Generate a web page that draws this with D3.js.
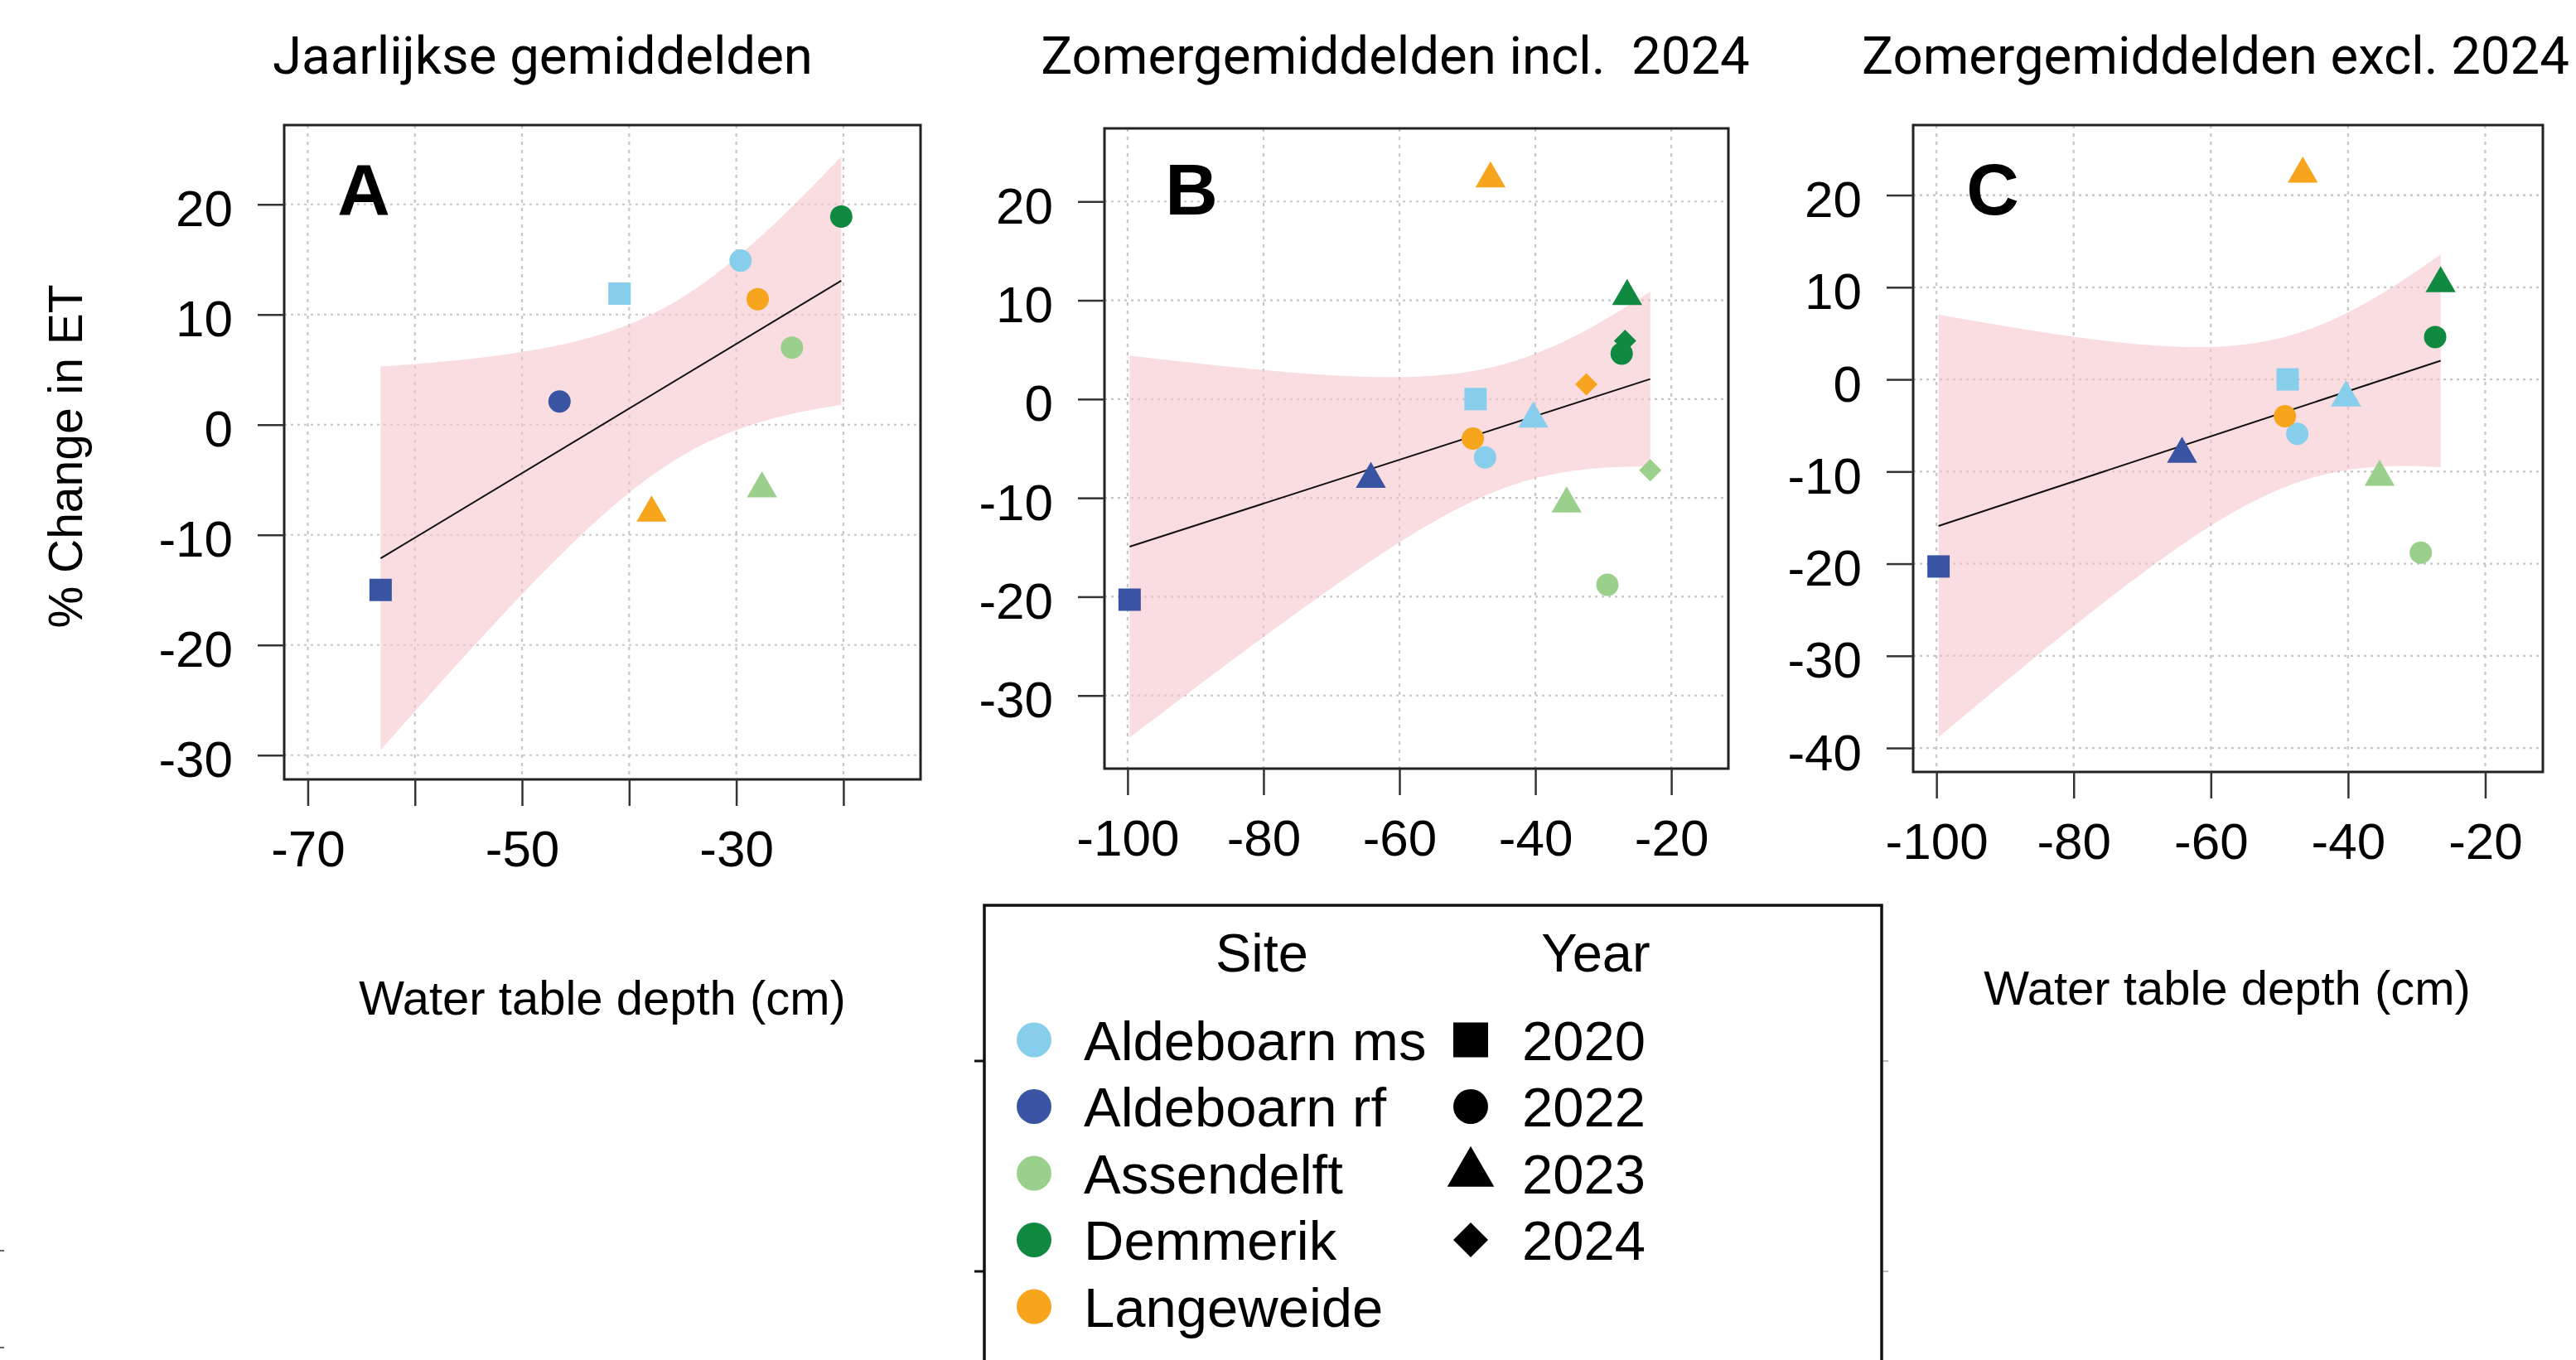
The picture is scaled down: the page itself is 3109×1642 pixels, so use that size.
<!DOCTYPE html>
<html>
<head>
<meta charset="utf-8">
<script src="https://cdn.jsdelivr.net/npm/d3@7"></script>
<style>
  body { margin: 0; background: #fff; }
  text { font-family: "Liberation Sans", Arial, sans-serif; fill: #000; }
</style>
</head>
<body>
<div id="chart"></div>
<script>
// legend categories
var sites = ["Aldeboarn ms", "Aldeboarn rf", "Assendelft", "Demmerik", "Langeweide"];
var siteColors = ["#86CEEB", "#3A54A4", "#9BD08C", "#108A40", "#F8A51E"];
var years = [2020, 2022, 2023, 2024];

// panel A: yearly means
var annualSite   = ["Aldeboarn ms", "Aldeboarn ms", "Aldeboarn rf", "Aldeboarn rf", "Assendelft", "Assendelft", "Demmerik", "Langeweide", "Langeweide"];
var annualYear   = [2020, 2022, 2020, 2022, 2022, 2023, 2022, 2022, 2023];
var annualDepth  = [-40.9, -29.6, -63.2, -46.5, -24.8, -27.6, -20.2, -28.0, -37.9];
var annualChange = [11.9, 14.9, -15.0, 2.1, 7.0, -5.8, 18.9, 11.4, -8.0];

// panels B and C: summer means (C leaves out 2024)
var summerSite   = ["Aldeboarn ms", "Aldeboarn ms", "Aldeboarn ms", "Aldeboarn rf", "Aldeboarn rf", "Assendelft", "Assendelft", "Assendelft", "Demmerik", "Demmerik", "Demmerik", "Langeweide", "Langeweide", "Langeweide"];
var summerYear   = [2020, 2022, 2023, 2020, 2023, 2022, 2023, 2024, 2022, 2023, 2024, 2022, 2023, 2024];
var summerDepth  = [-48.8, -47.4, -40.3, -99.7, -64.2, -29.4, -35.4, -23.1, -27.3, -26.5, -26.8, -49.2, -46.6, -32.5];
var summerChange = [0.0, -5.9, -2.0, -20.3, -8.1, -18.8, -10.6, -7.2, 4.6, 10.4, 5.9, -4.0, 22.3, 1.5];

// axis ticks
var xTicksA  = [-70, -60, -50, -40, -30, -20];
var xLabelsA = ["-70", "", "-50", "", "-30", ""];
var xTicksBC = [-100, -80, -60, -40, -20];
var yTicksA  = [-30, -20, -10, 0, 10, 20];
var yTicksB  = [-30, -20, -10, 0, 10, 20];
var yTicksC  = [-40, -30, -20, -10, 0, 10, 20];

// two-sided 95% t quantiles by df
var tQuant = {7: 2.364624, 8: 2.306004, 9: 2.262157, 10: 2.228139, 11: 2.200985, 12: 2.178813};

var width = 3109, height = 1642;
var svg = d3.select("#chart").append("svg")
    .attr("width", width)
    .attr("height", height)
    .style("display", "block");

function rows(site, year, depth, change, keep) {
  var out = [];
  for (var i = 0; i < site.length; i++) {
    if (keep && !keep(year[i])) continue;
    out.push({site: site[i], year: year[i], x: depth[i], y: change[i]});
  }
  return out;
}

var panels = [
  {title: "Jaarlijkse gemiddelden", letter: "A", box: [343, 151, 1111, 941], letterX: 439,
   xlim: [-70, -15], ylim: [-30, 25], xticks: xTicksA, xlabels: xLabelsA, yticks: yTicksA,
   titleX: 655, data: rows(annualSite, annualYear, annualDepth, annualChange)},
  {title: "Zomergemiddelden incl.  2024", letter: "B", box: [1333, 155, 2086, 928], letterX: 1438,
   xlim: [-100, -15], ylim: [-35, 25], xticks: xTicksBC, xlabels: null, yticks: yTicksB,
   titleX: 1684, data: rows(summerSite, summerYear, summerDepth, summerChange)},
  {title: "Zomergemiddelden excl. 2024", letter: "C", box: [2309, 151, 3069, 932], letterX: 2405,
   xlim: [-100, -15], ylim: [-40, 25], xticks: xTicksBC, xlabels: null, yticks: yTicksC,
   titleX: 2674, data: rows(summerSite, summerYear, summerDepth, summerChange, function(y) { return y != 2024; })}
];

// R style axis range: 4% extra on both sides
function expand(lim) {
  var d = (lim[1] - lim[0]) * 0.04;
  return [lim[0] - d, lim[1] + d];
}

// ordinary least squares + 95% confidence band
function fit(data) {
  var n = data.length,
      mx = d3.mean(data, function(d) { return d.x; }),
      my = d3.mean(data, function(d) { return d.y; }),
      sxx = d3.sum(data, function(d) { return (d.x - mx) * (d.x - mx); }),
      sxy = d3.sum(data, function(d) { return (d.x - mx) * (d.y - my); }),
      b = sxy / sxx, a = my - b * mx,
      sse = d3.sum(data, function(d) { var r = d.y - (a + b * d.x); return r * r; }),
      s = Math.sqrt(sse / (n - 2)),
      t = tQuant[n - 2];
  return {
    pred: function(x) { return a + b * x; },
    half: function(x) { return t * s * Math.sqrt(1 / n + (x - mx) * (x - mx) / sxx); }
  };
}

function shape(year, r) {
  if (year == 2020) return d3.symbol(d3.symbolSquare, 4 * r * r)();
  if (year == 2022) return d3.symbol(d3.symbolCircle, Math.PI * r * r)();
  if (year == 2023) return d3.symbol(d3.symbolTriangle, Math.PI * r * r)();
  var h = r;  // diamond = rotated square
  return d3.symbol(d3.symbolSquare, 2 * h * h)();
}

function colorOf(site) { return siteColors[sites.indexOf(site)]; }

panels.forEach(function(p) {
  var x = d3.scaleLinear().domain(expand(p.xlim)).range([p.box[0], p.box[2]]);
  var y = d3.scaleLinear().domain(expand(p.ylim)).range([p.box[3], p.box[1]]);
  var g = svg.append("g");

  // dotted grid
  g.selectAll(".gx").data(p.xticks).enter().append("line")
      .attr("x1", function(d) { return x(d); }).attr("x2", function(d) { return x(d); })
      .attr("y1", p.box[1]).attr("y2", p.box[3])
      .attr("stroke", "#c6c6c6").attr("stroke-width", 2.2).attr("stroke-dasharray", "4,6");
  g.selectAll(".gy").data(p.yticks).enter().append("line")
      .attr("y1", function(d) { return y(d); }).attr("y2", function(d) { return y(d); })
      .attr("x1", p.box[0]).attr("x2", p.box[2])
      .attr("stroke", "#c6c6c6").attr("stroke-width", 2.2).attr("stroke-dasharray", "3,5");

  // regression band + line
  var f = fit(p.data);
  var ext = d3.extent(p.data, function(d) { return d.x; });
  var xs = d3.range(0, 121).map(function(i) { return ext[0] + (ext[1] - ext[0]) * i / 120; });
  g.append("path")
      .datum(xs)
      .attr("fill", "#F4C5CA").attr("fill-opacity", 0.58)
      .attr("d", d3.area()
        .x(function(d) { return x(d); })
        .y0(function(d) { return y(f.pred(d) - f.half(d)); })
        .y1(function(d) { return y(f.pred(d) + f.half(d)); }));
  g.append("path")
      .datum(ext)
      .attr("fill", "none").attr("stroke", "#111").attr("stroke-width", 2)
      .attr("d", d3.line().x(function(d) { return x(d); }).y(function(d) { return y(f.pred(d)); }));

  // points
  g.selectAll(".pt").data(p.data).enter().append("path")
      .attr("d", function(d) { return shape(d.year, 13.5); })
      .attr("transform", function(d) {
        return "translate(" + x(d.x) + "," + y(d.y) + ")" + (d.year == 2024 ? " rotate(45)" : "");
      })
      .attr("fill", function(d) { return colorOf(d.site); });

  // frame
  g.append("rect")
      .attr("x", p.box[0]).attr("y", p.box[1])
      .attr("width", p.box[2] - p.box[0]).attr("height", p.box[3] - p.box[1])
      .attr("fill", "none").attr("stroke", "#222").attr("stroke-width", 3);

  // axes
  var ax = g.append("g")
      .attr("transform", "translate(0," + p.box[3] + ")")
      .call(d3.axisBottom(x).tickValues(p.xticks).tickSize(32).tickPadding(29)
        .tickFormat(function(d, i) { return p.xlabels ? p.xlabels[i] : d3.format("d")(d); }));
  var ay = g.append("g")
      .attr("transform", "translate(" + p.box[0] + ",0)")
      .call(d3.axisLeft(y).tickValues(p.yticks).tickSize(32).tickPadding(30).tickFormat(d3.format("d")));
  [ax, ay].forEach(function(a) {
    a.select(".domain").remove();
    a.selectAll("line").attr("stroke", "#333").attr("stroke-width", 2.5);
    a.selectAll("text").attr("font-size", 62).attr("font-family", "Liberation Sans, Arial, sans-serif").attr("fill", "#000");
  });
  ay.selectAll("text").attr("dy", "0.42em");
  ax.selectAll("text").text(function() { return d3.select(this).text().replace("\u2212", "-"); });
  ay.selectAll("text").text(function() { return d3.select(this).text().replace("\u2212", "-"); });

  // panel letter
  g.append("text")
      .attr("x", p.letterX).attr("y", 259)
      .attr("text-anchor", "middle")
      .attr("font-size", 88).attr("font-weight", "bold")
      .text(p.letter);

  // title
  g.append("text")
      .attr("x", p.titleX).attr("y", 89)
      .attr("text-anchor", "middle")
      .style("font-family", "Roboto, sans-serif")
      .style("white-space", "pre")
      .attr("font-size", 63.5)
      .attr("fill", "#1a1a1a")
      .text(p.title);
});

// axis titles
svg.append("text")
    .attr("transform", "translate(99,551) rotate(-90)")
    .attr("text-anchor", "middle")
    .attr("font-size", 57)
    .text("% Change in ET");
svg.append("text")
    .attr("x", 727).attr("y", 1225)
    .attr("text-anchor", "middle")
    .attr("font-size", 58)
    .text("Water table depth (cm)");
svg.append("text")
    .attr("x", 2688).attr("y", 1213)
    .attr("text-anchor", "middle")
    .attr("font-size", 58)
    .text("Water table depth (cm)");

// legend box (runs off the bottom of the picture)
var leg = svg.append("g");
leg.append("rect")
    .attr("x", 1188).attr("y", 1093)
    .attr("width", 1083).attr("height", 700)
    .attr("fill", "none").attr("stroke", "#111").attr("stroke-width", 3.5);
// leftover tick stubs on the legend edges
[1281, 1535].forEach(function(yy) {
  leg.append("line").attr("x1", 1176).attr("x2", 1188).attr("y1", yy).attr("y2", yy)
      .attr("stroke", "#111").attr("stroke-width", 3);
  leg.append("line").attr("x1", 2273).attr("x2", 2279).attr("y1", yy).attr("y2", yy)
      .attr("stroke", "#bbb").attr("stroke-width", 2);
});
[1510, 1627].forEach(function(yy) {
  leg.append("line").attr("x1", 0).attr("x2", 5).attr("y1", yy).attr("y2", yy)
      .attr("stroke", "#666").attr("stroke-width", 2);
});

leg.append("text").attr("x", 1523).attr("y", 1173).attr("text-anchor", "middle")
    .attr("font-size", 65).text("Site");
leg.append("text").attr("x", 1926).attr("y", 1173).attr("text-anchor", "middle")
    .attr("font-size", 65).text("Year");

var rowY = d3.scaleLinear().domain([0, 1]).range([1255.5, 1336]);

leg.selectAll(".sdot").data(sites).enter().append("circle")
    .attr("cx", 1248).attr("cy", function(d, i) { return rowY(i); })
    .attr("r", 21)
    .attr("fill", function(d, i) { return siteColors[i]; });
leg.selectAll(".stxt").data(sites).enter().append("text")
    .attr("x", 1308).attr("y", function(d, i) { return rowY(i) + 24; })
    .attr("font-size", 67)
    .text(function(d) { return d; });

leg.selectAll(".ysym").data(years).enter().append("path")
    .attr("d", function(d) { return shape(d, 21); })
    .attr("transform", function(d, i) {
      return "translate(1775," + rowY(i) + ")" + (d == 2024 ? " rotate(45)" : "");
    })
    .attr("fill", "#000");
leg.selectAll(".ytxt").data(years).enter().append("text")
    .attr("x", 1837).attr("y", function(d, i) { return rowY(i) + 24; })
    .attr("font-size", 67)
    .text(function(d) { return d; });
</script>
</body>
</html>
